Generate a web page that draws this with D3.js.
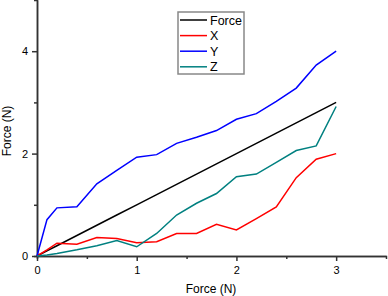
<head>
<meta charset="utf-8" />
<title></title>
<style>
body { margin: 0; background: #fff; }
svg text { font-family: "Liberation Sans", Arial, sans-serif; fill: #000; }
.domain, .tick line { stroke: #333; stroke-width: 1.5px; }
.series { fill: none; stroke-width: 1.5px; }
</style>
</head>
<body>
<div id="container"></div>
<script src="https://cdn.jsdelivr.net/npm/d3@7"></script>
<script>
// applied force (N) at each sample
var xs = [0, 0.1, 0.2, 0.4, 0.6, 0.8, 1, 1.2, 1.4, 1.6, 1.8, 2, 2.2, 2.4, 2.6, 2.8, 3];
var force = [0, 0.1, 0.2, 0.4, 0.6, 0.8, 1, 1.2, 1.4, 1.6, 1.8, 2, 2.2, 2.4, 2.6, 2.8, 3];
var fx = [0, 0.12, 0.25, 0.23, 0.36, 0.34, 0.26, 0.28, 0.44, 0.44, 0.62, 0.51, 0.73, 0.96, 1.53, 1.89, 2.0];
var fy = [0, 0.71, 0.94, 0.96, 1.41, 1.67, 1.93, 1.98, 2.2, 2.32, 2.45, 2.67, 2.78, 3.02, 3.28, 3.73, 4.0];
var fz = [0, 0.02, 0.05, 0.12, 0.2, 0.3, 0.18, 0.44, 0.8, 1.03, 1.22, 1.55, 1.6, 1.83, 2.06, 2.15, 2.92];
var names = ["Force", "X", "Y", "Z"];
var colors = ["#000000", "#ff0000", "#0000ff", "#008080"];
var xTicks = [0, 1, 2, 3];
var yTicks = [0, 2, 4];

var width = 388, height = 296;

var svg = d3.select("#container").append("svg")
    .attr("width", width)
    .attr("height", height);

var scale_x = d3.scaleLinear().domain([0, 3.5]).range([37, 386]);
var scale_y = d3.scaleLinear().domain([0, 5]).range([256, 0]);

// minor ticks first, then major ones on top
svg.append("g")
    .attr("transform", "translate(0,256)")
    .call(d3.axisBottom(scale_x).tickValues([0.5, 1.5, 2.5]).tickSize(3).tickFormat(""));
svg.append("g")
    .attr("transform", "translate(37,0)")
    .call(d3.axisLeft(scale_y).tickValues([1, 3]).tickSize(3).tickFormat(""));

var gx = svg.append("g")
    .attr("transform", "translate(0,256)")
    .call(d3.axisBottom(scale_x).tickValues(xTicks).tickSize(5).tickSizeOuter(0).tickFormat(d3.format("d")));
gx.selectAll("text").attr("font-size", "11px").attr("dy", "0.95em");

var gy = svg.append("g")
    .attr("transform", "translate(37,0)")
    .call(d3.axisLeft(scale_y).tickValues(yTicks).tickSize(5).tickSizeOuter(0).tickFormat(d3.format("d")));
gy.selectAll("text").attr("font-size", "11px").attr("x", -9);

svg.append("text")
    .attr("x", 211).attr("y", 293)
    .attr("text-anchor", "middle")
    .attr("font-size", "12px")
    .text("Force (N)");
svg.append("text")
    .attr("transform", "translate(11,131) rotate(-90)")
    .attr("text-anchor", "middle")
    .attr("font-size", "12px")
    .text("Force (N)");

var series = [force, fx, fy, fz];
var line_generator = d3.line()
    .x(function(d) { return scale_x(d[0]); })
    .y(function(d) { return scale_y(d[1]); });

series.forEach(function(vals, i) {
    svg.append("path")
        .attr("class", "series")
        .attr("stroke", colors[i])
        .attr("d", line_generator(d3.zip(xs, vals)));
});

// legend
var lg = svg.append("g").attr("transform", "translate(178,12)");
lg.append("rect")
    .attr("width", 66).attr("height", 62)
    .attr("fill", "#fff")
    .attr("stroke", "#888")
    .attr("stroke-width", 1.5);
names.forEach(function(n, i) {
    var y = 8 + i * 15.6;
    lg.append("line")
        .attr("x1", 2).attr("x2", 29)
        .attr("y1", y).attr("y2", y)
        .attr("stroke", colors[i])
        .attr("stroke-width", 1.5);
    lg.append("text")
        .attr("x", 32).attr("y", y)
        .attr("dy", "0.36em")
        .attr("font-size", "12.5px")
        .text(n);
});
</script>
</body>
